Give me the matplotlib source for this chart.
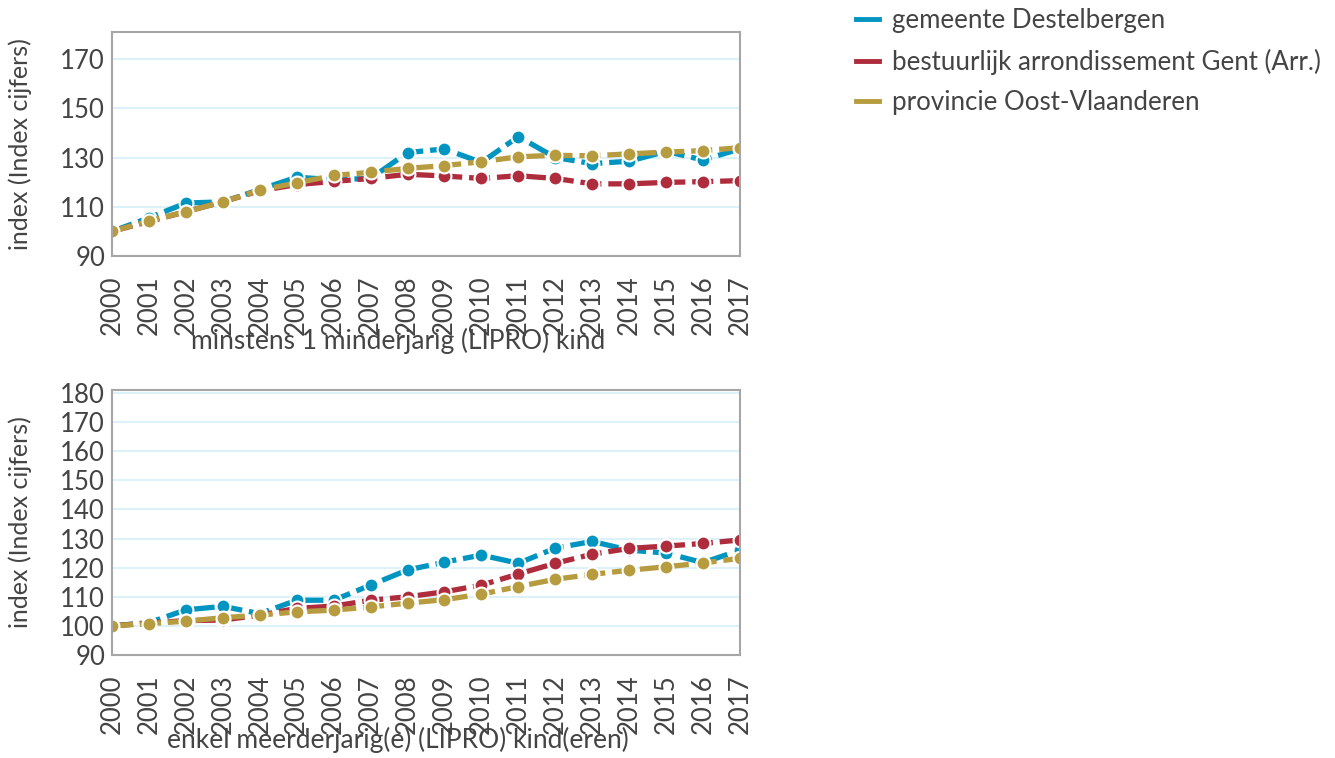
import numpy as np
import matplotlib.pyplot as plt
from matplotlib.lines import Line2D

plt.rcParams['font.family'] = ['Lato', 'DejaVu Sans']

years = [str(y) for y in range(2000, 2018)]
series_names = ['gemeente Destelbergen', 'bestuurlijk arrondissement Gent (Arr.)',
                'provincie Oost-Vlaanderen']
colors = ['#0095C1', '#AE2C3C', '#B79B3F']

# minstens 1 minderjarig (LIPRO) kind
top_dest = [100, 105.5, 111.5, 112, 117, 122, 121, 121.5, 132, 133.5, 128, 138.5,
            130, 127.5, 128.5, 132.5, 129, 133.5]
top_gent = [100, 104, 108, 112, 116.5, 119, 120.3, 121.5, 123.2, 122.5, 121.5, 122.6,
            121.5, 119.3, 119.3, 119.9, 120.2, 120.6]
top_prov = [100, 104.2, 108, 112, 116.7, 119.7, 122.7, 124, 125.6, 126.7, 128.3, 130.3,
            130.9, 130.7, 131.5, 132.2, 132.8, 134]

# enkel meerderjarig(e) (LIPRO) kind(eren)
bot_dest = [100, 101.1, 105.5, 106.7, 104.2, 108.8, 108.8, 114, 119.2, 121.9, 124.3, 121.5,
            126.7, 129, 126, 125, 121.7, 126]
bot_gent = [100, 101, 101.8, 102, 103.7, 106, 106.8, 108.8, 110, 111.7, 114, 117.8,
            121.5, 124.6, 126.6, 127.4, 128.3, 129.5]
bot_prov = [100, 100.8, 101.6, 102.8, 103.7, 104.8, 105.4, 106.5, 107.8, 109, 110.9, 113.5,
            116, 117.7, 119.1, 120.3, 121.6, 123.2]

txt = '#444444'
fig = plt.figure(figsize=(13.35, 7.58), dpi=100)
ax1 = fig.add_axes([0.0839, 0.6623, 0.4704, 0.2955])
ax2 = fig.add_axes([0.0839, 0.1359, 0.4704, 0.3496])

x = np.arange(len(years))


def draw(ax, data, yticks, ymax):
    for vals, c in zip(data, colors):
        ax.plot(x, vals, color=c, lw=3.8, ls=(0, (4, 1.3)), marker='o', ms=10,
                mfc=c, mec='white', mew=1.5, dash_capstyle='butt')
    ax.set_xlim(0, len(years) - 1)
    ax.set_ylim(90, ymax)
    ax.set_yticks(yticks)
    ax.set_xticks(x)
    ax.set_xticklabels(years, rotation=90)
    ax.grid(axis='y', color='#DDF1F9', lw=1.5)
    ax.set_axisbelow(True)
    for s in ax.spines.values():
        s.set_color('#A6A6A6')
        s.set_linewidth(1.5)
    ax.tick_params(axis='y', length=0, labelsize=18.5, colors=txt, pad=5)
    ax.tick_params(axis='x', length=0, labelsize=18.5, colors=txt, pad=14)
    ax.set_ylabel('index (Index cijfers)', fontsize=18, color=txt)
    ax.yaxis.set_label_coords(-0.127, 0.5)
    for lab in ax.get_xticklabels() + ax.get_yticklabels():
        lab.set_clip_on(False)


draw(ax1, [top_dest, top_gent, top_prov], [90, 110, 130, 150, 170], 181)
draw(ax2, [bot_dest, bot_gent, bot_prov], list(range(90, 181, 10)), 181)

fig.text(0.298, 0.55, 'minstens 1 minderjarig (LIPRO) kind', ha='center', va='center',
         fontsize=19, color=txt)
fig.text(0.298, 0.024, 'enkel meerderjarig(e) (LIPRO) kind(eren)', ha='center', va='center',
         fontsize=19, color=txt)

handles = [Line2D([0], [0], color=c, lw=3.5) for c in colors]
fig.legend(handles, series_names, loc='upper left', bbox_to_anchor=(0.6235, 1.02),
           frameon=False, fontsize=18.6, labelcolor=txt, handlelength=0.9,
           handletextpad=0.5, labelspacing=0.6)

fig.savefig('out.png', dpi=100)
